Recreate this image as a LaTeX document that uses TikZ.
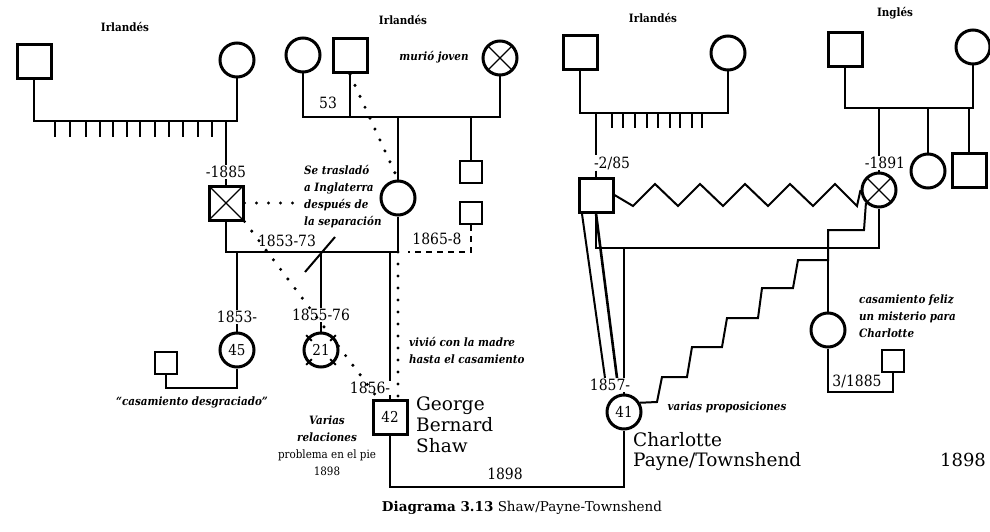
\documentclass[tikz,border=0pt]{standalone}
\usepackage{fontspec}
\setmainfont{DejaVu Serif}
\newfontfamily\narrowserif[Ligatures=TeX]{DejaVu Serif Condensed}
\usepackage{tikz}
\usetikzlibrary{positioning, calc}
\tikzset{
  male/.style={rectangle, draw, line width=3pt, minimum size=34pt, inner sep=0pt, font=\narrowserif\fontsize{15}{15}\selectfont},
  female/.style={circle, draw, line width=3pt, minimum size=34pt, inner sep=0pt, font=\narrowserif\fontsize{15}{15}\selectfont},
  smallmale/.style={male, minimum size=22pt, line width=2.6pt},
  deceased/.style={path picture={\draw[line width=1.2pt] (path picture bounding box.south west) -- (path picture bounding box.north east) (path picture bounding box.north west) -- (path picture bounding box.south east);}},
  rel/.style={line width=2pt},
  dots/.style={line width=3.4pt, line cap=round, dash pattern=on 0pt off 12pt},
  dashrel/.style={line width=2pt, dash pattern=on 6pt off 5pt},
  date/.style={inner sep=1pt, font=\narrowserif\fontsize{15.5}{15.5}\selectfont},
  note/.style={inner sep=1pt, font=\narrowserif\fontsize{11.5}{17}\selectfont\bfseries\itshape},
  origin/.style={font=\narrowserif\fontsize{11.5}{11.5}\selectfont\bfseries},
  bigname/.style={inner sep=0pt, align=left, font=\fontsize{18.5}{21}\selectfont},
}

\begin{document}
\begin{tikzpicture}[x=1pt, y=-1pt]
  \useasboundingbox (0,0) rectangle (990,532);

  % Shaw's father's parents
  \node[origin] (irl1) at (125,27) {Irlandés};
  \node[male] (pgf) at (34,62) {};
  \node[female] (pgm) at (237,60) {};
  \coordinate (sib1) at (226,121);
  \draw[rel] (pgf.south) |- (pgm.south |- sib1) -- (pgm.south);
  \foreach \x in {55,70,86,100,113,127,140,155,169,183,198,212}
    \draw[rel] (\x,121) -- (\x,137);

  % Shaw's father
  \node[date] (d1885) at (226,172) {-1885};
  \node[male, deceased] (shf) at (226,203) {};
  \draw[rel] (sib1) -- (sib1 |- d1885.north);
  \draw[rel] (shf.north |- d1885.south) -- (shf.north);

  % Shaw's mother's parents
  \node[origin] (irl2) at (403,20) {Irlandés};
  \node[female] (mgm) at (303,55) {};
  \node[male] (mgf) at (350,56) {};
  \node[female, deceased] (mgd) at (500,58) {};
  \node[note] (young) at (434,57) {murió joven};
  \coordinate (sib2) at (350,117);
  \draw[rel] (mgm.south) |- (mgd.south |- sib2) -- (mgd.south);
  \draw[rel] (mgf.south) -- (mgf.south |- sib2);
  \node[date] (d53) at (328,103) {53};

  % Shaw's mother and brothers
  \node[female] (shm) at (398,198) {};
  \node[smallmale] (unc) at (471,172) {};
  \node[smallmale] (lee) at (471,213) {};
  \draw[rel] (shm.north |- sib2) -- (shm.north);
  \draw[rel] (unc.north |- sib2) -- (unc.north);
  \draw[dots] (mgf.south) -- (shm.north);

  % Shaw's parents
  \coordinate (mar1) at (0,252);
  \draw[rel] (shf.south) |- (shm.south |- mar1) -- (shm.south);
  \node[date] (d5373) at (287,241) {1853-73};
  \draw[dashrel] (lee.south) |- ($(shm.south |- mar1)+(10,0)$);
  \node[date] (d658) at (437,239) {1865-8};

  % Children
  \node[date] (d1853) at (237,317) {1853-};
  \node[female] (sis1) at (237,350) {45};
  \node[date] (d1855) at (321,315) {1855-76};
  \node[female] (sis2) at (321,350) {21};
  \node[date] (d1856) at (370,388) {1856-};
  \node[male] (gbs) at (390,417) {42};
  \draw[rel] (sis1.north |- mar1) -- (sis1.north |- d1853.north);
  \draw[rel] (sis1.north |- d1853.south) -- (sis1.north);
  \draw[rel] (sis2.north |- mar1) -- (sis2.north |- d1855.north);
  \draw[rel] (sis2.north |- d1855.south) -- (sis2.north);
  \draw[rel] (gbs.north |- mar1) -- (gbs.north |- d1856.north);
  \draw[rel] (gbs.north |- d1856.south) -- (gbs.north);
  \draw[rel] ($(sis2.north |- mar1)+(-16,20)$) -- ($(sis2.north |- mar1)+(14,-15)$);
  \foreach \a in {45,135,225,315}
    \draw[rel] ($(sis2.center)+(\a:13)$) -- ($(sis2.center)+(\a:21)$);

  % "casamiento desgraciado"
  \node[smallmale] (sis1h) at (166,363) {};
  \coordinate (mar5) at (0,388);
  \draw[rel] (sis1.south) |- (sis1h.south |- mar5) -- (sis1h.south);
  \node[note] (unhappy) at (192,402) {``casamiento desgraciado''};

  % Dotted ties
  \node[note, align=left, anchor=west] (moved) at (303,197) {Se trasladó\\a Inglaterra\\después de\\la separación};
  \draw[dots] (shf.east) -- (shf.east -| moved.west);
  \draw[dots] (shf.south east) -- ($(gbs.north west)!0.35!(gbs.north)$);
  \draw[dots] (shm.south |- mar1) -- (shm.south |- gbs.north);
  \node[note, align=left, anchor=west] (withmom) at (408,350) {vivió con la madre\\hasta el casamiento};

  % Shaw
  \node[bigname, anchor=north west] (gbsname) at (416,397) {George\\Bernard\\Shaw};
  \node[note, align=center] (varias) at (327,446) {Varias\\relaciones\\{\upshape\mdseries problema en el pie}\\{\upshape\mdseries 1898}};

  % Charlotte's father's parents
  \node[origin] (irl3) at (653,18) {Irlandés};
  \node[male] (cgf) at (580,53) {};
  \node[female] (cgm) at (728,53) {};
  \coordinate (sib3) at (596,113);
  \draw[rel] (cgf.south) |- (cgm.south |- sib3) -- (cgm.south);
  \foreach \x in {612,623,635,647,658,670,680,692,702}
    \draw[rel] (\x,113) -- (\x,128);
  \node[date] (d285) at (612,163) {-2/85};
  \node[male] (cpf) at (596,195) {};
  \draw[rel] (sib3) -- (sib3 |- d285.north);
  \draw[rel] (cpf.north |- d285.south) -- (cpf.north);

  % Charlotte's mother's parents
  \node[origin] (ing) at (895,13) {Inglés};
  \node[male] (egf) at (845,50) {};
  \node[female] (egm) at (973,47) {};
  \coordinate (sib4) at (879,108);
  \draw[rel] (egf.south) |- (egm.south |- sib4) -- (egm.south);
  \node[date] (d1891) at (885,163) {-1891};
  \node[female, deceased] (cpm) at (879,190) {};
  \node[female] (aunt) at (928,171) {};
  \node[male] (uncle) at (969,170) {};
  \draw[rel] (sib4) -- (sib4 |- d1891.north);
  \draw[rel] (cpm.north |- d1891.south) -- (cpm.north);
  \draw[rel] (aunt.north |- sib4) -- (aunt.north);
  \draw[rel] (uncle.north |- sib4) -- (uncle.north);

  % Charlotte's parents
  \draw[rel] (cpf.east) \foreach \k in {0,...,4} { -- ({633+45*\k},206) -- ({655+45*\k},184) } -- (857,206) -- (cpm.west);
  \coordinate (mar2) at (0,248);
  \draw[rel] (cpf.south) |- (cpm.south |- mar2) -- (cpm.south);

  % Charlotte
  \node[date] (d1857) at (610,385) {1857-};
  \node[female] (cpt) at (624,412) {41};
  \draw[rel] (cpt.north |- mar2) -- (cpt.north |- d1857.north);
  \draw[rel] (cpt.north |- d1857.south) -- (cpt.north);
  \draw[rel] ($(cpf.south west)!0.12!(cpf.south east)$) -- ($(d1857.north)+(-5,0)$);
  \draw[rel, line width=2.6pt] (cpf.south) -- ($(d1857.north)+(7,0)$);
  \draw[rel] (cpt.30) -- (657,402) -- (662,377) -- (687,377) -- (692,347) -- (722,347) -- (727,318) -- (758,318) -- (762,288) -- (793,288) -- (798,260) -- (828,260) -- (828,230) -- (864,230) -- (cpm.south west);
  \node[note] (props) at (727,407) {varias proposiciones};
  \node[bigname, font=\fontsize{18.5}{20}\selectfont, anchor=north west] (cptname) at (633,432) {Charlotte\\Payne/Townshend};

  % Charlotte's sister
  \node[female] (csis) at (828,330) {};
  \draw[rel] (csis.north |- mar2) -- (csis.north);
  \node[smallmale] (csish) at (893,361) {};
  \coordinate (mar3) at (0,392);
  \draw[rel] (csis.south) |- (csish.south |- mar3) -- (csish.south);
  \node[date] (d385) at (857,381) {3/1885};
  \node[note, align=left, anchor=west] (happy) at (858,316) {casamiento feliz\\un misterio para\\Charlotte};

  % Shaw and Charlotte
  \coordinate (mar4) at (0,487);
  \draw[rel] (gbs.south) |- (cpt.south |- mar4) -- (cpt.south);
  \node[date] (d1898) at (505,474) {1898};
  \node[font=\fontsize{18}{18}\selectfont] (year) at (963,460) {1898};
  \node[font=\fontsize{13.5}{13.5}\selectfont] (caption) at (522,508) {\textbf{Diagrama 3.13} Shaw/Payne-Townshend};
\end{tikzpicture}
\end{document}
